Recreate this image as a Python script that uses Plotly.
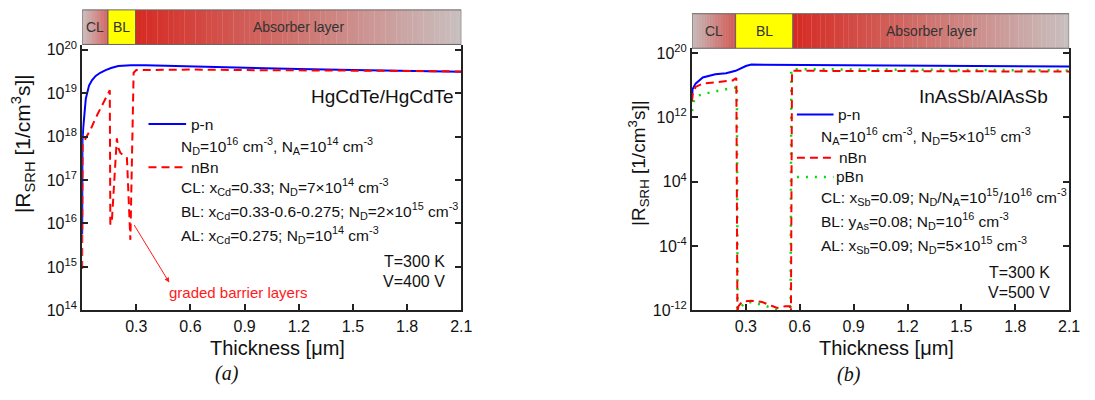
import plotly.graph_objects as go

W, H = 1095, 400

# ---------------- panel (a): HgCdTe/HgCdTe ----------------
a_pn_x = [0.0, 0.0005, 0.0016, 0.006, 0.011, 0.02, 0.038, 0.055, 0.075, 0.1, 0.13,
          0.16, 0.2, 0.27, 0.35, 0.6, 0.9, 1.2, 1.5, 1.8, 2.1]
a_pn_y = [5.6e15, 1.5e17, 7.9e17, 1.6e18, 2.5e18, 7.4e18, 1.5e19, 2.0e19, 2.5e19, 2.95e19, 3.4e19,
          3.8e19, 4.2e19, 4.4e19, 4.4e19, 4.1e19, 3.8e19, 3.6e19, 3.4e19, 3.2e19, 3.1e19]

a_nbn_x = [0.0, 0.002, 0.011, 0.048, 0.075, 0.148, 0.153, 0.156, 0.164, 0.192, 0.2, 0.212,
           0.248, 0.267, 0.285, 0.30, 0.6, 0.9, 1.2, 1.5, 1.8, 2.1]
a_nbn_y = [8.9e14, 6.9e17, 7.9e17, 1.5e18, 2.7e18, 1.05e19, 1.17e19, 9.5e15, 1.05e16, 9.1e17, 5.5e17, 4.2e17,
           3.2e17, 4.2e15, 2.95e19, 3.4e19, 3.5e19, 3.4e19, 3.4e19, 3.3e19, 3.25e19, 3.16e19]

# ---------------- panel (b): InAsSb/AlAsSb ----------------
b_pn_x = [0.0, 0.003, 0.02, 0.06, 0.13, 0.19, 0.243, 0.27, 0.3, 0.33, 0.6, 0.9, 1.2, 1.5, 1.8, 2.1]
b_pn_y = [1e14, 3.2e15, 1.6e16, 9.3e16, 2.3e17, 3.2e17, 6.3e17, 1.26e18, 2.5e18, 3.7e18,
          3.5e18, 3.3e18, 3.0e18, 2.8e18, 2.5e18, 2.2e18]

b_nbn_x = [0.0, 0.003, 0.02, 0.06, 0.13, 0.19, 0.227, 0.247, 0.253, 0.258, 0.28, 0.33, 0.39,
           0.45, 0.474, 0.518, 0.545, 0.551, 0.557, 0.6, 0.8, 1.0, 1.3, 1.6, 1.9, 2.1]
b_nbn_y = [1e14, 6.3e14, 6.3e15, 1.6e16, 2.3e16, 3.1e16, 4e16, 7.9e16, 3e-13, 3.2e-12, 1.26e-11, 1.6e-11, 1.1e-11,
           3.2e-12, 2e-12, 3.2e-12, 3.2e-12, 3e-13, 6.3e17, 6.3e17, 6e17, 6e17, 5.6e17, 5.5e17, 5.2e17, 5e17]

b_pbn_x = [0.0, 0.01, 0.03, 0.1, 0.19, 0.24, 0.25, 0.254, 0.263, 0.29, 0.336, 0.391, 0.446,
           0.483, 0.52, 0.539, 0.549, 0.553, 0.6, 0.8, 1.0, 1.3, 1.6, 1.9, 2.1]
b_pbn_y = [6.3e12, 1e14, 5e14, 1.26e15, 3.2e15, 5e15, 1e16, 3e-13, 1.26e-12, 7.9e-12, 1.1e-11, 5e-12, 2e-12,
           7.9e-13, 6.3e-13, 1.26e-12, 3e-13, 1e18, 1e18, 9.5e17, 9e17, 8.5e17, 8e17, 7.5e17, 7e17]

# ---------------- ticks ----------------
x_tickvals = [0.3, 0.6, 0.9, 1.2, 1.5, 1.8, 2.1]
x_ticktext = ["0.3", "0.6", "0.9", "1.2", "1.5", "1.8", "2.1"]
x_minor = [0.15, 0.45, 0.75, 1.05, 1.35, 1.65, 1.95]
a_exponents = [14, 15, 16, 17, 18, 19, 20]
b_exponents = [-12, -4, 4, 12, 20]

# layer stacks: (name, start, end) in micrometres
a_layers = [("CL", 0.0, 0.143), ("BL", 0.143, 0.296), ("Absorber layer", 0.296, 2.1)]
b_layers = [("CL", 0.0, 0.243), ("BL", 0.243, 0.562), ("Absorber layer", 0.562, 2.1)]

FONT = "Liberation Sans, Arial, sans-serif"
BLUE, RED, GREEN = "#0000ff", "#ff0000", "#00dd00"
RED_DASH, GREEN_DOT = "8px,5px", "2px,7px"
A_YRANGE = [14, 20.1]
B_YRANGE = [-12, 20.6]


def fx(px):
    return px / W


def fy(py):
    return 1 - py / H


fig = go.Figure()
fig.add_trace(go.Scatter(x=a_pn_x, y=a_pn_y, mode="lines", line=dict(color=BLUE, width=2),
                         xaxis="x", yaxis="y", name="p-n"))
fig.add_trace(go.Scatter(x=a_nbn_x, y=a_nbn_y, mode="lines", line=dict(color=RED, width=2, dash=RED_DASH),
                         xaxis="x", yaxis="y", name="nBn"))
fig.add_trace(go.Scatter(x=b_pn_x, y=b_pn_y, mode="lines", line=dict(color=BLUE, width=2),
                         xaxis="x2", yaxis="y2", name="p-n"))
fig.add_trace(go.Scatter(x=b_pbn_x, y=b_pbn_y, mode="lines", line=dict(color=GREEN, width=2.5, dash=GREEN_DOT),
                         xaxis="x2", yaxis="y2", name="pBn"))
fig.add_trace(go.Scatter(x=b_nbn_x, y=b_nbn_y, mode="lines", line=dict(color=RED, width=2, dash=RED_DASH),
                         xaxis="x2", yaxis="y2", name="nBn"))

axis_base = dict(showline=True, linecolor="#222", linewidth=2, ticks="inside", tickcolor="#222",
                 tickwidth=1.5, ticklen=6, showgrid=False, zeroline=False,
                 tickfont=dict(family=FONT, size=16, color="#111"))

# unlabeled overlay axes carry the minor ticks
minor_base = dict(showline=False, showgrid=False, zeroline=False, ticks="inside", tickcolor="#222",
                  tickwidth=1, ticklen=3.5, showticklabels=False, tickmode="array")

xaxis_cfg = dict(axis_base, range=[0, 2.1], tickmode="array", tickvals=x_tickvals, ticktext=x_ticktext)

a_minor_y = [k * 10.0 ** e for e in range(14, 20) for k in range(2, 10)]
b_minor_y = [10.0 ** e for e in range(-12, 21)]

fig.update_layout(
    width=W, height=H, margin=dict(l=0, r=0, t=0, b=0),
    paper_bgcolor="white", plot_bgcolor="white", showlegend=False,
    font=dict(family=FONT, color="#111"),
    xaxis=dict(xaxis_cfg, domain=[fx(83), fx(466)], anchor="y"),
    yaxis=dict(axis_base, type="log", range=A_YRANGE, domain=[fy(316), fy(40)], anchor="x",
               mirror="ticks", tickmode="array", tickvals=[10.0 ** e for e in a_exponents],
               ticktext=["10<sup>%d</sup>" % e for e in a_exponents]),
    xaxis2=dict(xaxis_cfg, domain=[fx(699), fx(1080)], anchor="y2"),
    yaxis2=dict(axis_base, type="log", range=B_YRANGE, domain=[fy(316), fy(43)], anchor="x2",
                mirror="ticks", tickmode="array", tickvals=[10.0 ** e for e in b_exponents],
                ticktext=["10<sup>%d</sup>" % e for e in b_exponents]),
    xaxis3=dict(minor_base, overlaying="x", anchor="y", range=[0, 2.1], tickvals=x_minor),
    yaxis3=dict(minor_base, overlaying="y", anchor="x", type="log", range=A_YRANGE,
                tickvals=a_minor_y, mirror="ticks"),
    xaxis4=dict(minor_base, overlaying="x2", anchor="y2", range=[0, 2.1], tickvals=x_minor),
    yaxis4=dict(minor_base, overlaying="y2", anchor="x2", type="log", range=B_YRANGE,
                tickvals=b_minor_y, mirror="ticks"),
)

shapes = []
annotations = []


def mix(c0, c1, t):
    return "rgb(%d,%d,%d)" % tuple(round(a + (b - a) * t) for a, b in zip(c0, c1))


def banner(layers, xref, top_px, bot_px):
    grads = {
        "CL": ((184, 172, 172), (200, 52, 46)),
        "Absorber layer": ((214, 42, 34), (200, 192, 192)),
    }
    for name, x0, x1 in layers:
        if name in grads:
            c0, c1 = grads[name]
            n = 60
            for i in range(n):
                shapes.append(dict(type="rect", xref=xref, yref="paper",
                                   x0=x0 + (x1 - x0) * i / n, x1=x0 + (x1 - x0) * (i + 1.05) / n,
                                   y0=fy(bot_px), y1=fy(top_px), line=dict(width=0),
                                   fillcolor=mix(c0, c1, (i + 0.5) / n), layer="above"))
        else:
            shapes.append(dict(type="rect", xref=xref, yref="paper", x0=x0, x1=x1,
                               y0=fy(bot_px), y1=fy(top_px), line=dict(width=0),
                               fillcolor="#ffff00", layer="above"))
        shapes.append(dict(type="rect", xref=xref, yref="paper", x0=x0, x1=x1,
                           y0=fy(bot_px), y1=fy(top_px), line=dict(width=1, color="#6a6060"),
                           fillcolor="rgba(0,0,0,0)", layer="above"))
        annotations.append(dict(text=name, xref=xref, yref="paper", x=(x0 + x1) / 2,
                                y=fy((top_px + bot_px) / 2), showarrow=False,
                                xanchor="center", yanchor="middle",
                                font=dict(family=FONT, size=14, color="#333")))


banner(a_layers, "x", 3, 39)
banner(b_layers, "x2", 7, 43)


def note(text, xp, yp, xanchor="left", size=15.5, color="#111", family=FONT):
    annotations.append(dict(text=text, x=fx(xp), y=fy(yp), xref="paper", yref="paper",
                            xanchor=xanchor, yanchor="middle", showarrow=False,
                            font=dict(family=family, size=size, color=color)))


def sample(x0, x1, yp, color, dash, width=2):
    shapes.append(dict(type="line", xref="paper", yref="paper", x0=fx(x0), x1=fx(x1),
                       y0=fy(yp), y1=fy(yp), line=dict(color=color, width=width, dash=dash)))


# panel (a) key and notes
note("HgCdTe/HgCdTe", 461, 93, xanchor="right", size=19)
sample(150, 188, 122, BLUE, "solid")
note("p-n", 191, 122)
note("N<sub>D</sub>=10<sup>16</sup> cm<sup>-3</sup>, N<sub>A</sub>=10<sup>14</sup> cm<sup>-3</sup>", 181, 145)
sample(150, 188, 167, RED, RED_DASH)
note("nBn", 191, 167)
note("CL: x<sub>Cd</sub>=0.33; N<sub>D</sub>=7×10<sup>14</sup> cm<sup>-3</sup>", 181, 188)
note("BL: x<sub>Cd</sub>=0.33-0.6-0.275; N<sub>D</sub>=2×10<sup>15</sup> cm<sup>-3</sup>", 181, 213)
note("AL: x<sub>Cd</sub>=0.275; N<sub>D</sub>=10<sup>14</sup> cm<sup>-3</sup>", 181, 238)
note("T=300 K", 452, 265, xanchor="right", size=16)
note("V=400 V", 452, 286, xanchor="right", size=16)
note("graded barrier layers", 169, 297, size=15, color="#ff1a1a")
annotations.append(dict(text="", x=fx(171), y=fy(287), xref="paper", yref="paper",
                        ax=-36, ay=-59, showarrow=True, arrowhead=2, arrowsize=1,
                        arrowwidth=1, arrowcolor="#ff1a1a"))

# panel (b) key and notes
note("InAsSb/AlAsSb", 1061, 93, xanchor="right", size=19)
sample(805, 842, 112, BLUE, "solid")
note("p-n", 844, 112)
note("N<sub>A</sub>=10<sup>16</sup> cm<sup>-3</sup>, N<sub>D</sub>=5×10<sup>15</sup> cm<sup>-3</sup>", 827, 134)
sample(805, 842, 157, RED, RED_DASH)
note("nBn", 845, 157)
sample(805, 842, 177, GREEN, GREEN_DOT, width=2.5)
note("pBn", 842, 177)
note("CL: x<sub>Sb</sub>=0.09; N<sub>D</sub>/N<sub>A</sub>=10<sup>15</sup>/10<sup>16</sup> cm<sup>-3</sup>", 827, 198)
note("BL: y<sub>As</sub>=0.08; N<sub>D</sub>=10<sup>16</sup> cm<sup>-3</sup>", 827, 223)
note("AL: x<sub>Sb</sub>=0.09; N<sub>D</sub>=5×10<sup>15</sup> cm<sup>-3</sup>", 827, 248)
note("T=300 K", 1063, 277, xanchor="right", size=16)
note("V=500 V", 1063, 297, xanchor="right", size=16)

# axis titles and panel captions
ytitle = "|R<sub>SRH</sub> [1/cm<sup>3</sup>s]|"
for xp, yp, sz in [(23, 142, 21), (645, 163, 19)]:
    annotations.append(dict(text=ytitle, x=fx(xp), y=fy(yp), xref="paper", yref="paper",
                            textangle=-90, showarrow=False, xanchor="center", yanchor="middle",
                            font=dict(family=FONT, size=sz, color="#111")))
note("Thickness [μm]", 280, 355, xanchor="center", size=20)
note("Thickness [μm]", 896, 355, xanchor="center", size=20)
note("<i>(a)</i>", 229, 382, xanchor="center", size=20, family="Liberation Serif, Times New Roman, serif")
note("<i>(b)</i>", 858, 383, xanchor="center", size=20, family="Liberation Serif, Times New Roman, serif")

fig.update_layout(shapes=shapes, annotations=annotations)
fig.write_html("out.html")
